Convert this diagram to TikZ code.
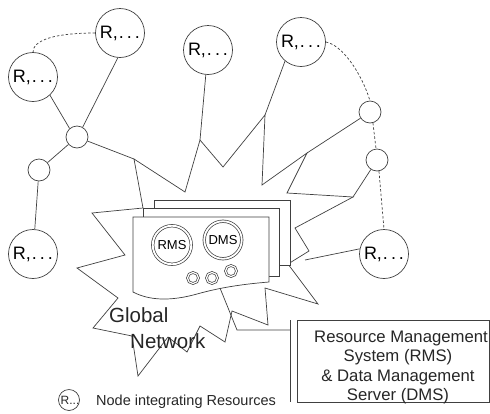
\documentclass[tikz,border=0pt]{standalone}
\usepackage{fontspec}
\setmainfont{Liberation Sans}
\begin{document}
\begin{tikzpicture}[x=1pt,y=-1pt,
  ink/.style={draw=black!75, line width=0.7pt},
  link/.style={ink},
  dashlink/.style={ink, dash pattern=on 2.5pt off 2pt},
  rnode/.style={circle, ink, fill=white, minimum size=49pt, inner sep=0pt,
    font=\fontsize{18}{18}\selectfont},
  hub/.style={circle, ink, fill=white, minimum size=22pt, inner sep=0pt},
  ringed/.style={circle, ink, fill=white, double=white, double distance=1.8pt,
    inner sep=0pt, font=\fontsize{13}{13}\selectfont},
  port/.style={circle, ink, fill=white, double=white, double distance=1.2pt,
    minimum size=11pt, inner sep=0pt},
  page/.style={ink, fill=white},
  caption/.style={font=\fontsize{16.7}{16.7}\selectfont, anchor=base, text=black!85},
  netlabel/.style={font=\fontsize{20.5}{20.5}\selectfont, anchor=base west, inner sep=0pt, text=black!85}
]
\useasboundingbox (0,0) rectangle (490,413);

% vertices of the jagged "global network" outline
\coordinate (s1) at (134,159);
\coordinate (s2) at (185,192);
\coordinate (s3) at (200,140);
\coordinate (s4) at (223,167);
\coordinate (s5) at (265,115);
\coordinate (s6) at (262,185);
\coordinate (s7) at (307,153);
\coordinate (s8) at (287,193);
\coordinate (s9) at (353,197);
\coordinate (s10) at (295,228);
\coordinate (s11) at (309,251);
\coordinate (s12) at (288,264);
\coordinate (s13) at (318,304);
\coordinate (s14) at (265,288);
\coordinate (s15) at (268,325);
\coordinate (s16) at (232,311);
\coordinate (s17) at (225,342);
\coordinate (s18) at (200,326);
\coordinate (s19) at (187,352);
\coordinate (s20) at (168,337);
\coordinate (s21) at (138,376);
\coordinate (s22) at (132,336);
\coordinate (s23) at (93,328);
\coordinate (s24) at (118,298);
\coordinate (s25) at (77,268);
\coordinate (s26) at (125,255);
\coordinate (s27) at (92,213);
\coordinate (s28) at (143,208);

\draw[ink] (s1) -- (s2) -- (s3) -- (s4) -- (s5) -- (s6) -- (s7) -- (s8) -- (s9)
  -- (s10) -- (s11) -- (s12) -- (s13) -- (s14) -- (s15) -- (s16) -- (s17)
  -- (s18) -- (s19) -- (s20) -- (s21) -- (s22) -- (s23) -- (s24) -- (s25)
  -- (s26) -- (s27) -- (s28) -- cycle;

% resource nodes and relay points
\node[rnode] (R1) at (120,33) {R,\kern1pt.\kern3pt.\kern3pt.};
\node[rnode] (R2) at (33,77) {R,\kern1pt.\kern3pt.\kern3pt.};
\node[rnode] (R3) at (208,50) {R,\kern1pt.\kern3pt.\kern3pt.};
\node[rnode] (R4) at (301,42) {R,\kern1pt.\kern3pt.\kern3pt.};
\node[rnode] (R5) at (33,254) {R,\kern1pt.\kern3pt.\kern3pt.};
\node[rnode] (R6) at (384,254) {R,\kern1pt.\kern3pt.\kern3pt.};

\node[hub] (H1) at (77,137) {};
\node[hub] (H2) at (39,170) {};
\node[hub] (H3) at (370,112) {};
\node[hub] (H4) at (377,160) {};

% links
\coordinate (r6end) at (305,260);
\draw[link] (R2.-47) -- (H1.131);
\draw[link] (R1.-95) -- (H1.60);
\draw[link] (H1) -- (H2);
\draw[link] (H2) -- (R5);
\draw[link] (H1) -- (s1);
\draw[link] (R3) -- (s3);
\draw[link] (R4.-130) -- (s5);
\draw[link] (H3) -- (s7);
\draw[link] (H4) -- (s9);
\draw[link] (R6.168) -- (r6end);

% dashed links
\draw[dashlink] (R1.west) .. controls (55,33) and (33,40) .. (R2.north);
\draw[dashlink] (R4.east) .. controls (342,45) and (361,72) .. (H3.north);
\draw[dashlink] (H3.-75) -- (H4.95);
\draw[dashlink] (H4.-80) -- (R6.north);

% stacked server pages
\draw[page] (154,200) rectangle (290,265);
\draw[page] (143,208) rectangle (279,276);
\draw[page] (133,217) -- (269,217) -- (269,282)
  .. controls (245,284) and (222,287) .. (197,294)
  .. controls (172,301) and (150,301) .. (133,292) -- cycle;

\node[ringed, minimum size=38.5pt] (RMS) at (172,245) {RMS};
\node[ringed, minimum size=37.5pt] (DMS) at (223,240) {DMS};
\node[port] (P1) at (193,278) {};
\node[port] (P2) at (212,278) {};
\node[port] (P3) at (231,271) {};

% callout to the caption box
\coordinate (c1) at (220,288);
\coordinate (c2) at (237,330);
\coordinate (c3) at (290,330);
\coordinate (c4) at (290,320);
\coordinate (c5) at (290,402);
\draw[link] (c1) -- (c2) -- (c3);
\draw[link] (c4) -- (c5);
\draw[ink] (297,320) rectangle (489.5,402);
\node[caption] (cap1) at (401,342) {Resource Management};
\node[caption] (cap2) at (398,361.5) {System (RMS)};
\node[caption] (cap3) at (398,381) {\& Data Management};
\node[caption] (cap4) at (398,400) {Server (DMS)};

% network label
\node[netlabel] (gl1) at (109,322) {Global};
\node[netlabel] (gl2) at (130,348) {Network};

% legend: a small resource node with its explanation
\node[inner sep=0pt, font=\fontsize{12}{12}\selectfont, text=black!85] (leg) at (70,400) {R...};
\draw[ink] (69,400) circle (10.5pt);
\node[font=\fontsize{14.5}{14.5}\selectfont, anchor=base west, inner sep=0pt, text=black!85] (legtxt) at (96,405) {Node integrating Resources};
\end{tikzpicture}
\end{document}
